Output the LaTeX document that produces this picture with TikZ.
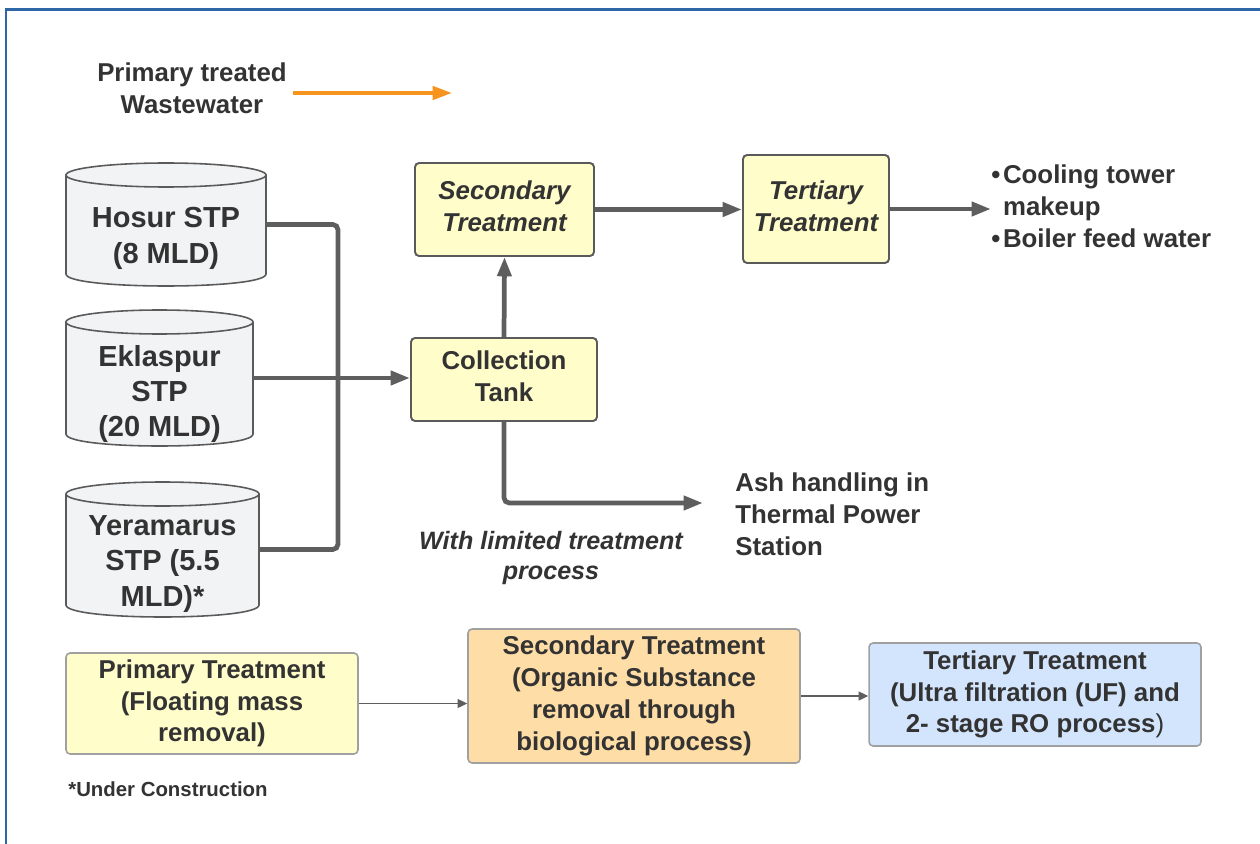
\documentclass[tikz,border=0pt]{standalone}
\usepackage{fontspec}
\setmainfont{Liberation Sans}
\usetikzlibrary{arrows.meta,calc}
\definecolor{txt}{HTML}{333333}
\definecolor{yfill}{HTML}{FFFDCA}
\definecolor{ofill}{HTML}{FFDDA6}
\definecolor{bfill}{HTML}{D3E5FD}
\definecolor{cfill}{HTML}{F2F3F5}
\definecolor{conn}{HTML}{5E5E5E}
\definecolor{bdark}{HTML}{5A5A5A}
\definecolor{blight}{HTML}{A0A0A0}
\definecolor{framec}{HTML}{2F66A8}
\definecolor{orangec}{HTML}{F7941D}
\newcommand\mycyl[4]{% x1, x2, ytop, ybot
  \filldraw[cylline] (#1,#3+12) -- (#1,#4-12) .. controls (#1,#4+4) and (#2,#4+4) .. (#2,#4-12) -- (#2,#3+12);
  \filldraw[cylline] ({(#1+#2)/2},#3+12) ellipse [x radius={(#2-#1)/2}, y radius=12];
}
\newcommand\upby[2]{\raisebox{#1}{\begin{tabular}{@{}c@{}}#2\end{tabular}}}
\newcommand\bul{\textbullet\hspace{1.5pt}}
\begin{document}
\begin{tikzpicture}[x=0.02cm,y=-0.02cm,
  every node/.style={text=txt},
  mainfont/.style={font=\bfseries\fontsize{14.7}{18.1}\selectfont},
  box/.style={draw=bdark, line width=1.1pt, fill=yfill, rounded corners=2.3pt, align=center, inner sep=0pt, mainfont},
  lbox/.style={draw=blight, line width=0.9pt, rounded corners=2.3pt, align=center, inner sep=0pt, mainfont},
  cylline/.style={draw=bdark, line width=0.9pt, fill=cfill},
  cylbox/.style={inner sep=0pt, draw=none},
  cyltext/.style={align=center, inner sep=0pt, font=\bfseries\fontsize{16.5}{20}\selectfont},
  plain/.style={align=center, inner sep=0pt, mainfont},
  ital/.style={align=center, inner sep=0pt, font=\bfseries\itshape\fontsize{14.3}{17.3}\selectfont},
  conn/.style={draw=conn, line width=2.7pt, rounded corners=3pt},
  carrow/.style={conn, -{Triangle[length=11pt,width=7.8pt]}},
  tarrow/.style={draw=conn, line width=1.1pt, -{Triangle[length=5.5pt,width=5pt]}},
  oarrow/.style={draw=orangec, line width=2.2pt, -{Triangle[length=11pt,width=7.5pt]}},
  framel/.style={draw=framec, line width=1.5pt}
]
\useasboundingbox (0,0) rectangle (1260,844);
\fill[white] (0,0) rectangle (1260,844);
\draw[framel] (1262,9.5) -- (6,9.5) -- (6,846);

% legend
\node[plain] (ptw) at (192,88) {Primary treated\\Wastewater};
\coordinate (o1) at (293,93);
\coordinate (o2) at (452,93);
\draw[oarrow] (o1) -- (o2);

% cylinders
\mycyl{66}{266}{163}{286}
\node[cylbox, minimum width=4cm, minimum height=2.46cm] (hosur) at (166,224.5) {};
\node[cyltext, font=\bfseries\fontsize{16.5}{20.5}\selectfont] (hosurt) at (166,238) {Hosur STP\\(8 MLD)};

\mycyl{66}{253}{310}{446}
\node[cylbox, minimum width=3.74cm, minimum height=2.72cm] (ekl) at (159.5,378) {};
\node[cyltext] (eklt) at (159.5,394) {Eklaspur\\STP\\(20 MLD)};

\mycyl{66}{259}{482}{617}
\node[cylbox, minimum width=3.86cm, minimum height=2.7cm] (yer) at (162.5,549.5) {};
\node[cyltext] (yert) at (162.5,564) {Yeramarus\\STP (5.5\\MLD)*};

% top boxes
\node[box, minimum width=3.58cm, minimum height=1.86cm, font=\bfseries\itshape\fontsize{14.7}{18.1}\selectfont] (sec) at (504.5,209.5) {\upby{1.7pt}{Secondary\\Treatment}};
\node[box, minimum width=2.92cm, minimum height=2.16cm, font=\bfseries\itshape\fontsize{14.7}{18.1}\selectfont] (ter) at (816,209) {\upby{1.7pt}{Tertiary\\Treatment}};
\node[box, minimum width=3.72cm, minimum height=1.66cm] (col) at (504,379.5) {\upby{1.4pt}{Collection\\Tank}};

\node[plain, align=left, anchor=west] (use) at (991,206) {\bul Cooling tower\\\phantom{\bul}makeup\\\bul Boiler feed water};
\node[plain, align=left, anchor=west] (ash) at (735,514) {Ash handling in\\Thermal Power\\Station};
\node[ital] (lim) at (551,558) {With limited treatment\\process};
\coordinate (ashin) at (703,503);
\coordinate (bus) at (338,400);

% connectors
\draw[conn] (hosur.east) -- (hosur.east -| bus) -- (yer.east -| bus) -- (yer.east);
\draw[carrow] (ekl.east) -- (ekl.east -| col.west);
\draw[carrow] (col.north) -- (sec.south);
\draw[carrow] (sec.east) -- (sec.east -| ter.west);
\draw[carrow] (ter.east) -- (ter.east -| use.west);
\draw[carrow] (col.south) |- (ashin);

% bottom row
\node[lbox, fill=yfill, minimum width=5.84cm, minimum height=2.02cm] (pri) at (212,703.5) {Primary Treatment\\(Floating mass\\removal)};
\node[lbox, fill=ofill, minimum width=6.64cm, minimum height=2.68cm] (secb) at (634,696) {Secondary Treatment\\(Organic Substance\\removal through\\biological process)};
\node[lbox, fill=bfill, minimum width=6.64cm, minimum height=2.06cm] (terb) at (1035,694.5) {Tertiary Treatment\\(Ultra filtration (UF) and\\2- stage RO process{\mdseries)}};
\draw[tarrow] (pri.east) -- (pri.east -| secb.west);
\draw[tarrow] (secb.east) -- (secb.east -| terb.west);

\node[inner sep=0pt, anchor=west, font=\bfseries\fontsize{11.6}{14}\selectfont] (uc) at (68,789) {*Under Construction};
\end{tikzpicture}
\end{document}
